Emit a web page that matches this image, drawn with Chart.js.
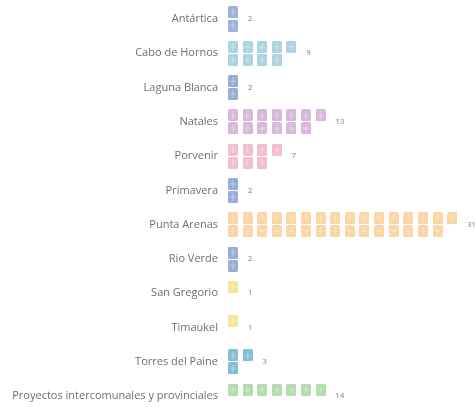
<!DOCTYPE html>
<html>
<head>
<meta charset="utf-8">
<script src="https://cdn.jsdelivr.net/npm/chart.js@4"></script>
<style>
  html, body { margin: 0; padding: 0; background: #fff; }
  #wrap { width: 476px; height: 407px; }
</style>
</head>
<body>
<div id="wrap"><canvas id="chart"></canvas></div>
<script>
const comunas = [
  'Antártica', 'Cabo de Hornos', 'Laguna Blanca', 'Natales', 'Porvenir', 'Primavera',
  'Punta Arenas', 'Rio Verde', 'San Gregorio', 'Timaukel', 'Torres del Paine',
  'Proyectos intercomunales y provinciales'
];
const proyectos = [2, 9, 2, 13, 7, 2, 31, 2, 1, 1, 3, 14];
const colores = [
  '#9bb1d8', '#add3e1', '#96acd6', '#d8b8d9', '#f3bccf', '#96add8',
  '#f9d7a4', '#96add8', '#f6e596', '#f6e596', '#84bed3', '#b2dbae'
];

// little "window" icon used for each unit
function makeIcon(color) {
  const c = document.createElement('canvas');
  c.width = 10; c.height = 12;
  const g = c.getContext('2d');
  g.fillStyle = color;
  g.beginPath();
  g.roundRect(0, 0, 10, 12, 1.5);
  g.fill();
  g.strokeStyle = 'rgba(255,255,255,0.4)';
  g.lineWidth = 1;
  g.beginPath();
  g.moveTo(5, 2); g.lineTo(5, 10);
  g.moveTo(2, 6); g.lineTo(8, 6);
  g.stroke();
  return c;
}

const icons = colores.map(makeIcon);

// one point per unit: top row first, then bottom
const datasets = comunas.map((name, k) => {
  const pts = [];
  for (let i = 0; i < proyectos[k]; i++) {
    pts.push({ x: Math.floor(i / 2), y: k + (i % 2 === 0 ? -0.19 : 0.19) });
  }
  return {
    label: name,
    data: pts,
    pointStyle: icons[k],
    pointRadius: 6,
    pointHoverRadius: 6,
    clip: false,
  };
});

const valueLabels = {
  id: 'valueLabels',
  afterDatasetsDraw(chart) {
    const { ctx, scales } = chart;
    ctx.save();
    ctx.font = '7.5px "Open Sans", sans-serif';
    ctx.fillStyle = '#777';
    ctx.textBaseline = 'middle';
    ctx.textAlign = 'left';
    proyectos.forEach((v, k) => {
      const lastCol = Math.ceil(v / 2) - 1;
      const x = scales.x.getPixelForValue(lastCol) + 15;
      const y = scales.y.getPixelForValue(k);
      ctx.fillText(String(v), x, y);
    });
    ctx.restore();
  }
};

new Chart(document.getElementById('chart'), {
  type: 'scatter',
  data: { datasets },
  plugins: [valueLabels],
  options: {
    responsive: true,
    maintainAspectRatio: false,
    animation: false,
    layout: { padding: 0 },
    scales: {
      x: {
        type: 'linear',
        min: -0.336,
        max: 16.15,
        display: false,
      },
      y: {
        type: 'linear',
        reverse: true,
        min: -0.07,
        max: 10.83,
        afterFit(scale) { scale.width = 228; },
        afterBuildTicks(scale) {
          scale.ticks = comunas.map((_, i) => ({ value: i }));
        },
        grid: { display: false, drawTicks: false },
        border: { display: false },
        ticks: {
          padding: 10,
          color: '#6e6e6e',
          font: { family: '"Open Sans", sans-serif', size: 11 },
          callback: (value) => comunas[value] || '',
        },
      },
    },
    plugins: {
      legend: { display: false },
      tooltip: { enabled: false },
    },
  },
});
</script>
</body>
</html>
